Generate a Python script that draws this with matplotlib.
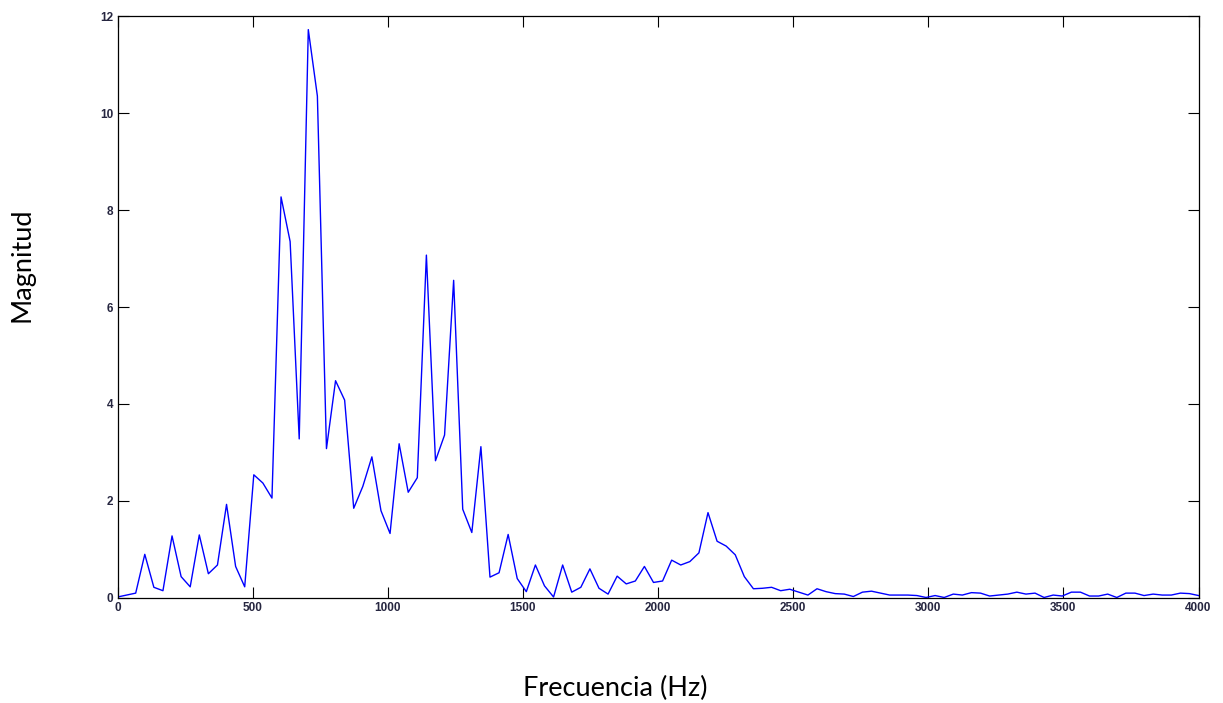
import matplotlib.pyplot as plt
import numpy as np

# magnitud del espectro, un valor por bin (0 a 4000 Hz)
magnitud = [
    0.02, 0.06, 0.10, 0.90, 0.22, 0.15, 1.28, 0.44, 0.23, 1.30,
    0.50, 0.68, 1.93, 0.65, 0.23, 2.54, 2.37, 2.06, 8.27, 7.35,
    3.28, 11.72, 10.35, 3.08, 4.48, 4.08, 1.85, 2.30, 2.91, 1.80,
    1.33, 3.18, 2.18, 2.48, 7.07, 2.83, 3.36, 6.55, 1.83, 1.35,
    3.12, 0.43, 0.52, 1.31, 0.40, 0.13, 0.68, 0.25, 0.02, 0.68,
    0.12, 0.22, 0.60, 0.20, 0.08, 0.45, 0.29, 0.35, 0.65, 0.32,
    0.35, 0.78, 0.68, 0.75, 0.93, 1.76, 1.17, 1.07, 0.89, 0.44,
    0.19, 0.20, 0.22, 0.15, 0.18, 0.12, 0.06, 0.19, 0.13, 0.09,
    0.08, 0.03, 0.12, 0.14, 0.10, 0.06, 0.06, 0.06, 0.05, 0.01,
    0.05, 0.01, 0.08, 0.06, 0.11, 0.10, 0.04, 0.06, 0.08, 0.12,
    0.08, 0.10, 0.01, 0.06, 0.04, 0.12, 0.12, 0.04, 0.04, 0.08,
    0.01, 0.10, 0.10, 0.05, 0.08, 0.06, 0.06, 0.10, 0.09, 0.05,
]
frecuencia = np.linspace(0, 4000, len(magnitud))

xticks = [0, 500, 1000, 1500, 2000, 2500, 3000, 3500, 4000]
yticks = [0, 2, 4, 6, 8, 10, 12]

fig = plt.figure(figsize=(12.23, 7.03), dpi=100)
ax = fig.add_axes([0.0961, 0.1494, 0.8839, 0.8278])

ax.plot(frecuencia, magnitud, color="#0000ff", linewidth=1.0)
ax.set_xlim(0, 4000)
ax.set_ylim(0, 12)
ax.set_xticks(xticks)
ax.set_yticks(yticks)

ax.tick_params(direction="in", length=8, width=0.8, top=True, right=True,
               labelsize=8.5, labelcolor="#262640", pad=3)
for lab in ax.get_xticklabels() + ax.get_yticklabels():
    lab.set_family("Liberation Sans")
    lab.set_fontweight("bold")
for s in ax.spines.values():
    s.set_linewidth(0.9)

fig.text(22 / 1223, 1 - 265 / 703, "Magnitud", rotation=90, ha="center",
         va="center", fontsize=19.5, family="Lato")
fig.text(615 / 1223, 1 - 688 / 703, "Frecuencia (Hz)", ha="center",
         va="center", fontsize=19.5, family="Lato")

fig.savefig("out.png", dpi=100)
